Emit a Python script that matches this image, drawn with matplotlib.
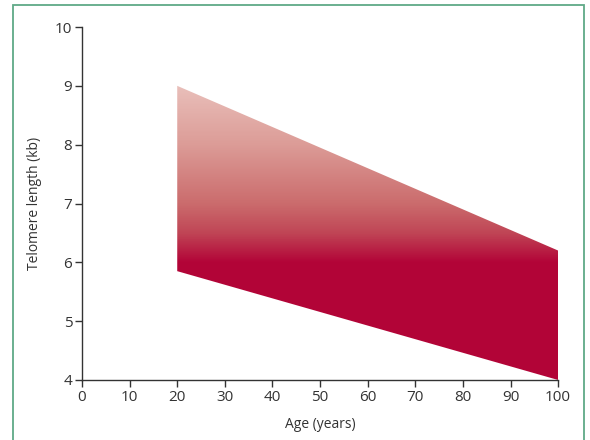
import matplotlib.pyplot as plt
import numpy as np
from matplotlib.colors import LinearSegmentedColormap
from matplotlib.patches import Polygon, Rectangle

plt.rcParams['font.family'] = ['Open Sans', 'DejaVu Sans']

# band of telomere length over age
ages = [20, 100]
upper = [9.0, 6.2]
lower = [5.85, 4.0]

# vertical gradient stops (telomere length, colour)
grad_levels = [4.0, 6.0, 6.5, 7.0, 8.0, 9.0]
grad_colors = ['#b20437', '#b30538', '#c04656', '#cb6c6d', '#dc9c97', '#e9bfba']

fig = plt.figure(figsize=(5.9, 4.4), dpi=100)
ax = fig.add_axes([0.139, 0.1364, 0.807, 0.8022])

# frame round the figure
fig.patches.append(Rectangle((0.022, -0.01), 0.968, 0.999, transform=fig.transFigure,
                             fill=False, edgecolor='#5fa987', linewidth=1.3))

lo, hi = grad_levels[0], grad_levels[-1]
cmap = LinearSegmentedColormap.from_list(
    'band', [((v - lo) / (hi - lo), c) for v, c in zip(grad_levels, grad_colors)])
yy = np.linspace(lo, hi, 400).reshape(-1, 1)
img = ax.imshow(yy, extent=[ages[0], ages[1], lo, hi], origin='lower', aspect='auto',
                cmap=cmap, vmin=lo, vmax=hi, zorder=2)
verts = [(ages[0], upper[0]), (ages[1], upper[1]), (ages[1], lower[1]), (ages[0], lower[0])]
poly = Polygon(verts, closed=True, facecolor='none', edgecolor='none')
ax.add_patch(poly)
img.set_clip_path(poly)

ax.set_xlim(0, 100)
ax.set_ylim(4, 10)
ax.set_xticks(range(0, 101, 10))
ax.set_yticks(range(4, 11))
for s in ['top', 'right']:
    ax.spines[s].set_visible(False)
for s in ['left', 'bottom']:
    ax.spines[s].set_color('#333333')
    ax.spines[s].set_linewidth(1.0)
ax.tick_params(direction='out', length=5, width=1.0, color='#333333',
               labelsize=11, labelcolor='#333333', pad=2)
ax.set_xlabel('Age (years)', fontsize=10, color='#333333', labelpad=9)
ax.set_ylabel('Telomere length (kb)', fontsize=10, color='#333333', labelpad=9)

fig.savefig('out.png', dpi=100)
